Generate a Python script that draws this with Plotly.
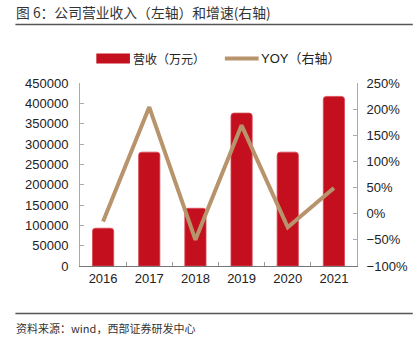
import plotly.graph_objects as go

years = ["2016", "2017", "2018", "2019", "2020", "2021"]
revenue = [93000, 280000, 142000, 376000, 280000, 417000]
yoy = [-0.15, 2.04, -0.50, 1.69, -0.26, 0.49]

bar_color = "#C40F1E"
line_color = "#B8946C"
font_main = "Liberation Sans, Arial, Noto Sans CJK SC"
font_cjk = "Noto Sans CJK SC, Liberation Sans"

fig = go.Figure()
fig.add_trace(go.Bar(
    x=years, y=revenue, name="营收（万元）",
    marker=dict(color=bar_color, line=dict(color="#D94A55", width=0.8)),
    width=0.46, yaxis="y", showlegend=False,
))
fig.add_trace(go.Scatter(
    x=years, y=yoy, name="YOY（右轴）", mode="lines",
    line=dict(color=line_color, width=4),
    yaxis="y2", showlegend=False,
))

L, R, T, B = 80, 57, 82.7, 81.5
W, H = 420, 348
pw = W - L - R
ph = H - T - B

def px(x):
    return (x - L) / pw

def py(y):
    return (H - B - y) / ph

shapes = [
    dict(type="rect", xref="paper", yref="paper", x0=px(96.7), x1=px(131), y0=py(63), y1=py(53),
         fillcolor=bar_color, line=dict(width=0)),
    dict(type="line", xref="paper", yref="paper", x0=px(228), x1=px(262.5), y0=py(58), y1=py(58),
         line=dict(color=line_color, width=4)),
    dict(type="line", xref="paper", yref="paper", x0=px(14), x1=px(420), y0=py(24), y1=py(24),
         line=dict(color="#555555", width=1.5)),
    dict(type="line", xref="paper", yref="paper", x0=px(14), x1=px(420), y0=py(314.3), y1=py(314.3),
         line=dict(color="#555555", width=1.5)),
]

annotations = [
    dict(text="营收（万元）", xref="paper", yref="paper", x=px(132), y=py(58),
         xanchor="left", yanchor="middle", showarrow=False,
         font=dict(family=font_cjk, size=12, color="#222")),
    dict(text="YOY（右轴）", xref="paper", yref="paper", x=px(262.5), y=py(58),
         xanchor="left", yanchor="middle", showarrow=False,
         font=dict(family=font_main, size=13, color="#222")),
    dict(text="图 6：公司营业收入（左轴）和增速(右轴)", xref="paper", yref="paper", x=px(13), y=py(11),
         xanchor="left", yanchor="middle", showarrow=False,
         font=dict(family=font_cjk, size=13.8, color="#333")),
    dict(text="资料来源：wind，西部证券研发中心", xref="paper", yref="paper", x=px(13), y=py(329),
         xanchor="left", yanchor="middle", showarrow=False,
         font=dict(family=font_cjk, size=11, color="#333")),
]

fig.update_layout(
    width=W, height=H,
    margin=dict(l=L, r=R, t=T, b=B, pad=0),
    paper_bgcolor="white", plot_bgcolor="white",
    barcornerradius=3,
    xaxis=dict(
        type="category", showline=True, linecolor="#777", linewidth=1,
        ticks="inside", ticklen=4, tickcolor="#999", tickson="boundaries",
        tickfont=dict(family=font_main, size=13, color="#222"),
        showgrid=False, zeroline=False,
    ),
    yaxis=dict(
        range=[0, 450000], dtick=50000, tickformat="d",
        showline=True, linecolor="#aaa", linewidth=1,
        ticks="inside", ticklen=4, tickcolor="#aaa",
        tickfont=dict(family=font_main, size=13, color="#222"),
        showgrid=False, zeroline=False, ticklabelstandoff=8,
    ),
    yaxis2=dict(
        range=[-1, 2.5], dtick=0.5, tickformat=".0%",
        overlaying="y", side="right",
        showline=True, linecolor="#aaa", linewidth=1,
        ticks="inside", ticklen=4, tickcolor="#aaa",
        tickfont=dict(family=font_main, size=13, color="#222"),
        showgrid=False, zeroline=False, ticklabelstandoff=6,
    ),
    shapes=shapes,
    annotations=annotations,
)

fig.write_html("out.html")
